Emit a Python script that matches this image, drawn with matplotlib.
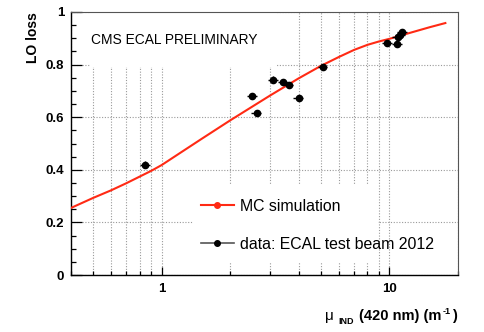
import matplotlib
matplotlib.use('Agg')
import matplotlib.pyplot as plt
import matplotlib.ticker as mticker
from matplotlib.lines import Line2D
from matplotlib.patches import Rectangle

plt.rcParams['font.family'] = ['Liberation Sans', 'DejaVu Sans']

# MC simulation curve
mc_mu = [0.4, 0.5, 0.6, 0.7, 0.8, 0.9, 1.0, 1.2, 1.5, 2.0, 3.0, 4.0, 5.0, 6.0,
         7.0, 8.0, 9.0, 10.0, 12.0, 15.0, 17.6]
mc_loss = [0.255, 0.293, 0.322, 0.349, 0.374, 0.396, 0.418, 0.463, 0.518, 0.588,
           0.683, 0.748, 0.795, 0.829, 0.856, 0.875, 0.888, 0.898, 0.918, 0.942, 0.958]

# test beam data
data_mu = [0.846, 2.50, 2.61, 3.09, 3.40, 3.61, 3.99, 5.09, 9.77, 10.8, 10.85, 11.1, 11.35]
data_loss = [0.420, 0.681, 0.615, 0.743, 0.734, 0.722, 0.672, 0.791, 0.882, 0.880,
             0.905, 0.914, 0.923]
data_mu_err = [0.042, 0.125, 0.13, 0.155, 0.17, 0.18, 0.20, 0.25, 0.49, 0.54, 0.54, 0.55, 0.57]
data_loss_err = [0.012, 0.012, 0.012, 0.012, 0.012, 0.012, 0.012, 0.012, 0.012, 0.012,
                 0.012, 0.012, 0.012]

x_ticks = [1, 10]
x_tick_labels = ['1', '10']
y_ticks = [0, 0.2, 0.4, 0.6, 0.8, 1.0]
y_tick_labels = ['0', '0.2', '0.4', '0.6', '0.8', '1']

W, H = 485, 332
fig = plt.figure(figsize=(W / 100, H / 100), dpi=100)
L, R, T, B = 71, 458, 12, 275
ax = fig.add_axes([L / W, 1 - B / H, (R - L) / W, (B - T) / H])

ax.set_xscale('log')
ax.set_xlim(0.4, 20)
ax.set_ylim(0, 1)

ax.xaxis.set_major_locator(mticker.FixedLocator(x_ticks))
ax.xaxis.set_major_formatter(mticker.FixedFormatter(x_tick_labels))
ax.xaxis.set_minor_locator(mticker.LogLocator(base=10, subs=[2, 3, 4, 5, 6, 7, 8, 9]))
ax.xaxis.set_minor_formatter(mticker.NullFormatter())
ax.yaxis.set_major_locator(mticker.FixedLocator(y_ticks))
ax.yaxis.set_major_formatter(mticker.FixedFormatter(y_tick_labels))
ax.yaxis.set_minor_locator(mticker.MultipleLocator(0.05))

ax.tick_params(axis='both', which='both', direction='in', top=False, right=False,
               colors='black', width=0.9)
ax.tick_params(axis='y', which='major', length=8, pad=5, labelsize=9.5)
ax.tick_params(axis='y', which='minor', length=3.8)
ax.tick_params(axis='x', which='major', length=6, pad=6, labelsize=9.5)
ax.tick_params(axis='x', which='minor', length=3)
for lab in ax.get_xticklabels() + ax.get_yticklabels():
    lab.set_fontweight('bold')

ax.set_axisbelow(True)
ax.grid(True, which='both', axis='x', ls=(0, (1, 1.5)), color='#9a9a9a', lw=0.8)
ax.grid(True, which='major', axis='y', ls=(0, (1, 1.5)), color='#9a9a9a', lw=0.8)

for s in ['left', 'bottom']:
    ax.spines[s].set_color('black')
    ax.spines[s].set_linewidth(1.0)
for s in ['top', 'right']:
    ax.spines[s].set_color('#555555')
    ax.spines[s].set_linewidth(0.8)

# white boxes (text pave and legend) hiding the grid
ax.add_patch(Rectangle((0.049, 0.791), 0.481, 0.209, transform=ax.transAxes,
                       facecolor='white', edgecolor='none', zorder=1))
ax.add_patch(Rectangle((0.315, 0.05), 0.478, 0.292, transform=ax.transAxes,
                       facecolor='white', edgecolor='none', zorder=1))

red = '#ff2a14'
ax.plot(mc_mu, mc_loss, color=red, lw=1.5, zorder=3)
ax.errorbar(data_mu, data_loss, xerr=data_mu_err, yerr=data_loss_err, fmt='o',
            color='black', ms=4.5, elinewidth=1.0, capsize=0, zorder=4)

ax.text(0.052, 0.894, 'CMS ECAL PRELIMINARY', transform=ax.transAxes,
        fontsize=9.9, ha='left', va='center', zorder=5)

handles = [Line2D([], [], color=red, lw=1.5, marker='o', ms=4, mfc=red, mec=red),
           Line2D([], [], color='#555555', lw=1.2, marker='o', ms=4, mfc='black', mec='black')]
ax.legend(handles, ['MC simulation', 'data: ECAL test beam 2012'], loc='center left',
          bbox_to_anchor=(0.335, 0.19), frameon=False, fontsize=11.4,
          handlelength=2.1, handletextpad=0.4, labelspacing=1.45,
          borderpad=0, borderaxespad=0)

ax.set_ylabel('LO loss', fontsize=10, fontweight='bold', labelpad=0)
ax.yaxis.set_label_coords(-38 / (R - L), 1.0)
ax.yaxis.label.set_ha('right')
ax.yaxis.label.set_va('center')

# x-axis title built from pieces, right-aligned at the axis end (ROOT style)
fig.canvas.draw()
rend = fig.canvas.get_renderer()
pieces = [  # text, size, weight, baseline shift (px), gap after (px)
    ('\u03bc', 11, 'normal', 0, 4),
    ('IND', 6.5, 'bold', -4, 5),
    ('(420 nm) (m', 10.5, 'bold', 0, 2),
    ('-1', 6.5, 'bold', 6, 1),
    (')', 10.5, 'bold', 0, 0),
]
texts = []
total = 0
for s, fs, fw, dy, gap in pieces:
    t = fig.text(0, 0, s, fontsize=fs, fontweight=fw, ha='left', va='baseline')
    w = t.get_window_extent(rend).width
    texts.append((t, w, dy, gap))
    total += w + gap
x = 457 - total
base = 320
for t, w, dy, gap in texts:
    t.set_position((x / W, 1 - (base - dy) / H))
    x += w + gap

fig.savefig('out.png', dpi=100)
